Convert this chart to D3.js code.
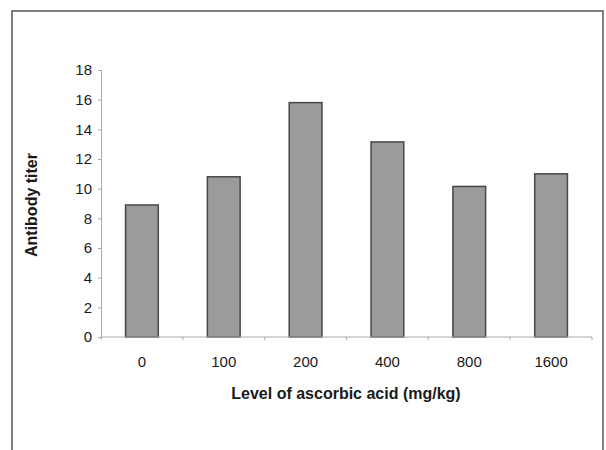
<!DOCTYPE html>
<html>
<head>
<meta charset="utf-8">
<script src="https://cdn.jsdelivr.net/npm/d3@7"></script>
<style>
  body { margin: 0; background: #fff; }
  text { font-family: "Liberation Sans", Arial, sans-serif; fill: #1a1a1a; }
</style>
</head>
<body>
<svg id="chart" width="606" height="450"></svg>
<script>
const levels = ['0', '100', '200', '400', '800', '1600'];
const titers = [8.9, 10.8, 15.8, 13.15, 10.15, 11.0];
const yTicks = [0, 2, 4, 6, 8, 10, 12, 14, 16, 18];

const svg = d3.select('#chart');

// frame (no bottom edge, as in the scan)
svg.append('path')
    .attr('d', 'M12,450 L12,11 L603,11 L603,450')
    .attr('fill', 'none')
    .attr('stroke', '#555')
    .attr('stroke-width', 1.5);

const x = d3.scaleBand().domain(levels).range([101, 592]).paddingInner(0.6).paddingOuter(0.3);
const y = d3.scaleLinear().domain([0, 18]).range([337, 70]);

// bars
svg.append('g').selectAll('rect')
    .data(levels)
    .join('rect')
    .attr('x', d => x(d))
    .attr('y', (d, i) => y(titers[i]))
    .attr('width', x.bandwidth())
    .attr('height', (d, i) => y(0) - y(titers[i]))
    .attr('fill', '#9b9b9b')
    .attr('stroke', '#474747')
    .attr('stroke-width', 1.5);

// y axis
const yAxis = svg.append('g')
    .attr('transform', 'translate(101,0)')
    .call(d3.axisLeft(y).tickValues(yTicks).tickSize(3).tickPadding(6));
yAxis.select('.domain').attr('stroke', '#aaa');
yAxis.selectAll('.tick line').attr('stroke', '#aaa');
yAxis.selectAll('.tick text').style('font-size', '15px').attr('fill', '#1a1a1a');

// x axis: ticks at band boundaries
const bounds = levels.map(d => x(d) - x.step() * x.paddingInner() / 2).concat([592]);
const xAxis = svg.append('g').attr('transform', 'translate(0,337)');
xAxis.append('line').attr('x1', 101).attr('x2', 592).attr('stroke', '#aaa');
xAxis.selectAll('line.tk')
    .data(bounds)
    .join('line')
    .attr('class', 'tk')
    .attr('x1', d => d).attr('x2', d => d)
    .attr('y1', 0).attr('y2', 3)
    .attr('stroke', '#aaa');
xAxis.selectAll('text')
    .data(levels)
    .join('text')
    .attr('x', d => x(d) + x.bandwidth() / 2)
    .attr('y', 30)
    .attr('text-anchor', 'middle')
    .style('font-size', '15px')
    .text(d => d);

// axis titles
svg.append('text')
    .attr('x', 346)
    .attr('y', 399)
    .attr('text-anchor', 'middle')
    .style('font-size', '16px')
    .style('font-weight', 'bold')
    .text('Level of ascorbic acid (mg/kg)');

svg.append('text')
    .attr('transform', 'translate(37,205) rotate(-90)')
    .attr('text-anchor', 'middle')
    .style('font-size', '16px')
    .style('font-weight', 'bold')
    .text('Antibody titer');
</script>
</body>
</html>
